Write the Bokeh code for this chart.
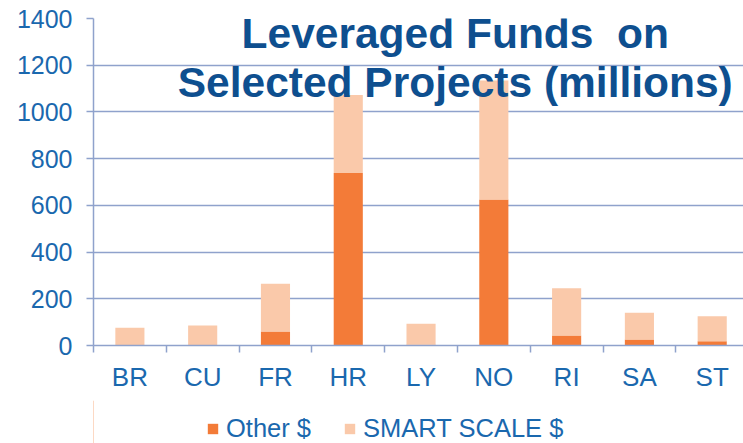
from bokeh.plotting import figure
from bokeh.layouts import column
from bokeh.models import (ColumnDataSource, Range1d, LinearAxis, FixedTicker,
                          Legend, LegendItem, Label)
from bokeh.embed import file_html
from bokeh.resources import INLINE

# ---- data ----
categories = ["BR", "CU", "FR", "HR", "LY", "NO", "RI", "SA", "ST"]
other_vals = [2, 2, 60, 738, 3, 625, 43, 26, 18]
smart_vals = [74, 84, 204, 335, 90, 510, 202, 114, 107]
series_names = ["Other $", "SMART SCALE $"]
y_ticks = [0, 200, 400, 600, 800, 1000, 1200, 1400]
title_lines = ["Leveraged Funds \u00a0on", "Selected Projects (millions)"]

# ---- styles ----
FONT = "Liberation Sans"
BLUE = "#1A68AE"
TITLE_BLUE = "#0E4F8F"
GRID = "#8FA2CC"
C_OTHER = "#F37B38"
C_SMART = "#FAC9AA"
colors = [C_OTHER, C_SMART]

xs = [i + 0.5 for i in range(len(categories))]
bounds = list(range(len(categories) + 1))
src = ColumnDataSource(dict(x=xs, cat=categories, other=other_vals, smart=smart_vals))

p = figure(width=743, height=400, output_backend="svg", toolbar_location=None,
           x_range=Range1d(0, 8.93), y_range=Range1d(0, 1400),
           x_axis_location=None, y_axis_location=None,
           min_border_left=93, min_border_right=0, min_border_top=18,
           min_border_bottom=55)
p.outline_line_color = None
p.background_fill_color = "white"
p.border_fill_color = "white"

renderers = p.vbar_stack(["other", "smart"], x="x", width=0.4, source=src,
                         color=colors, line_color=None)

# y axis
yax = LinearAxis(ticker=FixedTicker(ticks=y_ticks))
yax.axis_line_color = GRID
yax.axis_line_width = 1.5
yax.major_tick_line_color = GRID
yax.major_tick_line_width = 1.5
yax.major_tick_out = 7
yax.major_tick_in = 0
yax.minor_tick_line_color = None
yax.major_label_text_font = FONT
yax.major_label_text_font_size = "25px"
yax.major_label_text_color = BLUE
yax.major_label_standoff = 14
p.add_layout(yax, "left")

# grid
p.xgrid.grid_line_color = None
p.ygrid.ticker = yax.ticker
p.ygrid.grid_line_color = GRID
p.ygrid.grid_line_width = 1.5

# x axis: ticks at category boundaries, no labels
xax = LinearAxis(ticker=FixedTicker(ticks=bounds),
                 major_label_overrides={b: "" for b in bounds})
xax.axis_line_color = GRID
xax.axis_line_width = 1.5
xax.major_tick_line_color = GRID
xax.major_tick_line_width = 1.5
xax.major_tick_out = 7
xax.major_tick_in = 0
xax.minor_tick_line_color = None
xax.major_label_standoff = 0
p.add_layout(xax, "below")

# x axis: labels at category centres
xlab = LinearAxis(ticker=FixedTicker(ticks=xs),
                  major_label_overrides={x: c for x, c in zip(xs, categories)})
xlab.axis_line_color = None
xlab.major_tick_line_color = None
xlab.minor_tick_line_color = None
xlab.major_label_text_font = FONT
xlab.major_label_text_font_size = "26px"
xlab.major_label_text_color = BLUE
xlab.major_label_standoff = 3
p.add_layout(xlab, "below")

# title overlapping the plot
for line, yv in zip(title_lines, [1335, 1125]):
    p.add_layout(Label(x=4.97, y=yv, text=line, text_align="center",
                       text_baseline="alphabetic", text_font=FONT,
                       text_font_style="bold", text_font_size="42.5px",
                       text_color=TITLE_BLUE))

# legend strip below the chart (key swatches sit outside its visible range)
pl = figure(width=743, height=43, output_backend="svg", toolbar_location=None,
            x_range=Range1d(0, 1), y_range=Range1d(0, 1),
            x_axis_location=None, y_axis_location=None,
            min_border_left=0, min_border_right=0, min_border_top=0,
            min_border_bottom=0)
pl.outline_line_color = None
pl.background_fill_alpha = 0
pl.border_fill_alpha = 0
pl.xgrid.grid_line_color = None
pl.ygrid.grid_line_color = None
keys = [pl.vbar(x=[-10], top=[1], width=0.1, color=c, line_color=None) for c in colors]
legend = Legend(items=[LegendItem(label=n, renderers=[r]) for n, r in zip(series_names, keys)],
                orientation="horizontal", location=(113, 0))
legend.border_line_color = None
legend.background_fill_alpha = 0
legend.glyph_width = 13
legend.glyph_height = 13
legend.label_standoff = 7
legend.spacing = 32
legend.padding = 0
legend.margin = 0
legend.label_text_font = FONT
legend.label_text_font_size = "25.5px"
legend.label_text_color = BLUE
pl.add_layout(legend, "center")

layout = column(p, pl, spacing=0)
open("out.html", "w").write(file_html(layout, INLINE))
